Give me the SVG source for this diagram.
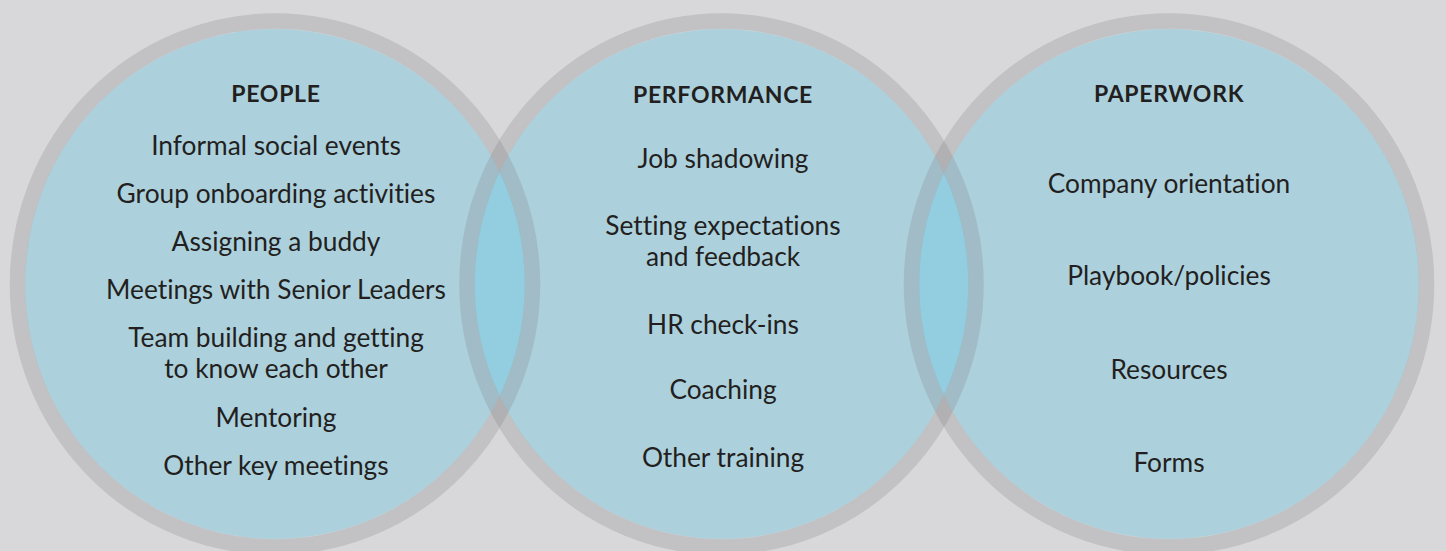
<svg xmlns="http://www.w3.org/2000/svg" width="1446" height="551" viewBox="0 0 1446 551">
<style>
.fill{fill:#acd1dd}
.lens{fill:#93cde0}
.ring{fill:none;stroke:#808082;stroke-opacity:0.25;stroke-width:15.5}
.title{font-family:Lato,"Open Sans",sans-serif;font-weight:700;font-size:23px;letter-spacing:0.7px;fill:#231f20;text-anchor:middle}
.item{font-family:Lato,"Open Sans",sans-serif;font-size:26.3px;fill:#231f20;text-anchor:middle;font-variant-ligatures:none}
</style>
<defs>
<clipPath id="clipL"><ellipse cx="275" cy="284" rx="250" ry="255"/></clipPath>
<clipPath id="clipR"><ellipse cx="1169" cy="284" rx="250" ry="255"/></clipPath>
</defs>
<rect width="1446" height="551" fill="#d8d8da"/>
<g id="fills">
<ellipse class="fill" cx="275" cy="284" rx="250" ry="255"/>
<ellipse class="fill" cx="721.5" cy="284" rx="247" ry="255"/>
<ellipse class="fill" cx="1169" cy="284" rx="250" ry="255"/>
<ellipse class="lens" cx="721.5" cy="284" rx="247" ry="255" clip-path="url(#clipL)"/>
<ellipse class="lens" cx="721.5" cy="284" rx="247" ry="255" clip-path="url(#clipR)"/>
</g>
<g id="rings">
<ellipse class="ring" cx="275" cy="284" rx="257.5" ry="263"/>
<ellipse class="ring" cx="721.5" cy="284" rx="254.5" ry="263"/>
<ellipse class="ring" cx="1169" cy="284" rx="257.5" ry="263"/>
</g>
<g id="people">
<text class="title" x="276" y="102">PEOPLE</text>
<text class="item" x="276" y="155">Informal social events</text>
<text class="item" x="276" y="203">Group onboarding activities</text>
<text class="item" x="276" y="251">Assigning a buddy</text>
<text class="item" x="276" y="299">Meetings with Senior Leaders</text>
<text class="item" x="276" y="347">Team building and getting</text>
<text class="item" x="276" y="378">to know each other</text>
<text class="item" x="276" y="427">Mentoring</text>
<text class="item" x="276" y="475">Other key meetings</text>
</g>
<g id="performance">
<text class="title" x="723" y="103">PERFORMANCE</text>
<text class="item" x="723" y="168">Job shadowing</text>
<text class="item" x="723" y="235">Setting expectations</text>
<text class="item" x="723" y="266">and feedback</text>
<text class="item" x="723" y="334">HR check-ins</text>
<text class="item" x="723" y="399">Coaching</text>
<text class="item" x="723" y="467">Other training</text>
</g>
<g id="paperwork">
<text class="title" x="1169" y="102">PAPERWORK</text>
<text class="item" x="1169" y="193">Company orientation</text>
<text class="item" x="1169" y="285">Playbook/policies</text>
<text class="item" x="1169" y="379">Resources</text>
<text class="item" x="1169" y="472">Forms</text>
</g>
</svg>
